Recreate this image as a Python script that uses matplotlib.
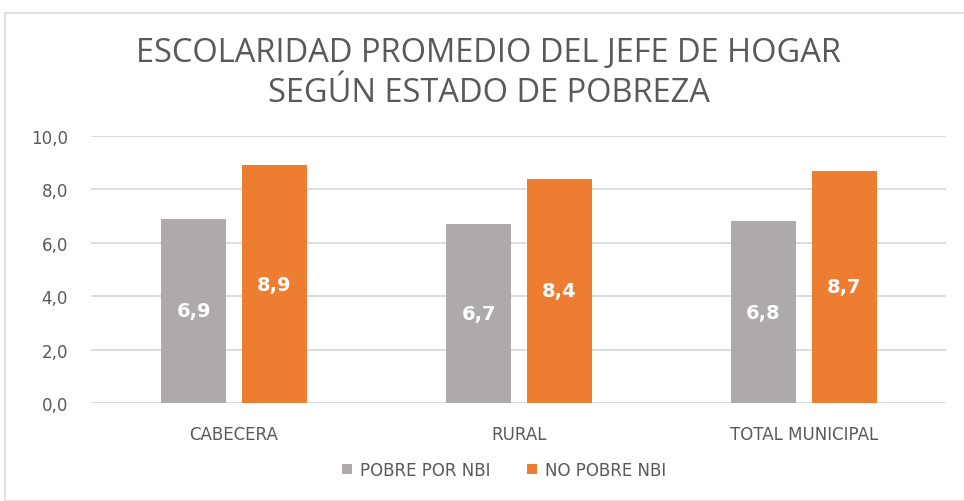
import matplotlib
matplotlib.use("Agg")
import matplotlib.pyplot as plt
import numpy as np
from matplotlib.patches import Rectangle

categories = ["CABECERA", "RURAL", "TOTAL MUNICIPAL"]
pobre = [6.9, 6.7, 6.8]
no_pobre = [8.9, 8.4, 8.7]
series_names = ["POBRE POR NBI", "NO POBRE NBI"]
yticks = [0, 2, 4, 6, 8, 10]
title = "ESCOLARIDAD PROMEDIO DEL JEFE DE HOGAR\nSEGÚN ESTADO DE POBREZA"

GRAY = "#AEAAAA"
ORANGE = "#ED7D31"
TXT = "#595959"

plt.rcParams['font.family'] = ['DejaVu Sans']

fig = plt.figure(figsize=(9.64, 5.02), dpi=100)
fig.patches.append(Rectangle((5/964, 0), 1, 1 - 14/502, transform=fig.transFigure,
                             fill=False, edgecolor="#D9D9D9", linewidth=1.2))
ax = fig.add_axes([0.0949, 0.1952, 0.8869, 0.5319])

x = np.arange(len(categories))
w = 0.228
off = 0.142
b1 = ax.bar(x - off, pobre, w, color=GRAY, label=series_names[0], zorder=3)
b2 = ax.bar(x + off, no_pobre, w, color=ORANGE, label=series_names[1], zorder=3)

for bars, vals in ((b1, pobre), (b2, no_pobre)):
    for r, v in zip(bars, vals):
        ax.text(r.get_x() + r.get_width() / 2, v / 2, f"{v:.1f}".replace(".", ","),
                ha="center", va="center", color="white", fontsize=14,
                fontweight="bold", zorder=4)

ax.set_xlim(-0.5, 2.5)
ax.set_ylim(0, 10)
ax.set_yticks(yticks)
ax.set_yticklabels([f"{t:.1f}".replace(".", ",") for t in yticks], color=TXT, fontsize=12)
ax.set_xticks(x)
ax.set_xticklabels(categories, color=TXT, fontsize=12)
ax.tick_params(length=0)
ax.tick_params(axis="x", pad=16)
ax.tick_params(axis="y", pad=17)
ax.grid(axis="y", color="#D9D9D9", linewidth=1.3, zorder=0)
for s in ax.spines.values():
    s.set_visible(False)

fig.text(0.507, 1 - 73/502, title, ha="center", va="center", fontsize=23.5,
         color=TXT, linespacing=1.28,
         family=['Open Sans', 'DejaVu Sans'])

leg = fig.legend(loc="center", bbox_to_anchor=(0.523, 1 - 471/502), ncol=2,
                 frameon=False, fontsize=12, handlelength=0.6, handleheight=0.6,
                 columnspacing=2.2, handletextpad=0.5)
for t in leg.get_texts():
    t.set_color(TXT)

fig.savefig("out.png", dpi=100)
